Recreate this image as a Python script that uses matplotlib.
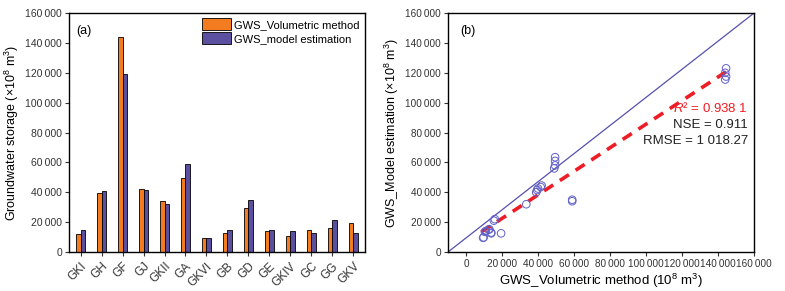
import matplotlib
matplotlib.use('Agg')
import matplotlib.pyplot as plt
from matplotlib.ticker import FuncFormatter
import numpy as np

plt.rcParams['font.family'] = ['Liberation Sans', 'DejaVu Sans']
plt.rcParams['mathtext.fontset'] = 'custom'
plt.rcParams['mathtext.rm'] = 'Liberation Sans'
plt.rcParams['mathtext.it'] = 'Liberation Sans:italic'

# panel (a) data
basins = ['GKI', 'GH', 'GF', 'GJ', 'GKII', 'GA', 'GKVI', 'GB', 'GD', 'GE',
          'GKIV', 'GC', 'GG', 'GKV']
vol_method = [12000, 39500, 144000, 42000, 34000, 49500, 9500, 13000, 29500,
              14000, 11000, 14500, 16000, 19500]
model_est = [15000, 41000, 119500, 41500, 32000, 59000, 9500, 15000, 34500,
             14800, 14000, 12500, 21500, 12500]

# panel (b) data
scat_x = [9500, 9800, 10500, 11000, 12500, 13000, 14000, 14000, 15500, 16000,
          19500, 33500, 39000, 39500, 40000, 41500, 42000, 49000, 49500,
          49500, 49500, 59000, 59000, 144000, 144500, 144000, 144500]
scat_y = [9500, 9800, 13500, 14000, 15000, 15200, 13000, 12500, 21000, 22000,
          12500, 32000, 40000, 41500, 42500, 43500, 44500, 56000, 58000,
          61000, 63500, 34000, 35000, 115500, 117500, 120000, 123000]

ORANGE = '#F47C20'
PURPLE = '#5B4F9F'


def thousands(v, pos):
    return '{:,}'.format(int(v)).replace(',', '\u2009')


fig = plt.figure(figsize=(7.85, 2.91), dpi=100)
ax1 = fig.add_axes([0.0879, 0.134, 0.377, 0.821])
ax2 = fig.add_axes([0.5707, 0.134, 0.3898, 0.821])

# ---- (a) bars
idx = np.arange(len(basins))
w = 0.22
ax1.bar(idx - w / 2, vol_method, w, color=ORANGE, edgecolor='black',
        linewidth=0.6, label='GWS_Volumetric method')
ax1.bar(idx + w / 2, model_est, w, color=PURPLE, edgecolor='black',
        linewidth=0.6, label='GWS_model estimation')
ax1.set_xlim(-0.55, len(basins) - 0.45)
ax1.set_ylim(0, 160000)
ax1.set_yticks(np.arange(0, 160001, 20000))
ax1.yaxis.set_major_formatter(FuncFormatter(thousands))
ax1.set_xticks(idx)
ax1.set_xticklabels(basins, rotation=45, ha='right', rotation_mode='anchor')
ax1.tick_params(labelsize=7.5, length=3, width=0.8, colors='#333333',
                pad=2)
ax1.tick_params(axis='x', labelsize=8.5, pad=3)
ax1.set_ylabel('Groundwater storage (\u00d710$^8$ m$^3$)', fontsize=9,
               labelpad=3)
ax1.text(0.025, 0.95, '(a)', transform=ax1.transAxes, fontsize=9,
         va='top')
ax1.legend(loc='upper right', frameon=False, fontsize=8, handlelength=2.6,
           handleheight=1.3, borderaxespad=0.05, labelspacing=0.15,
           handletextpad=0.3)

# ---- (b) scatter
ax2.plot([0, 1], [0, 1], transform=ax2.transAxes, color='#5550B0', lw=0.9)
k, b = np.polyfit(scat_x, scat_y, 1)
fx = np.array([min(scat_x) - 1000, max(scat_x)])
ax2.plot(fx, k * fx + b, color='#EE1C24', lw=2.6, ls=(0, (3, 2.2)))
ax2.scatter(scat_x, scat_y, s=30, facecolors='none', edgecolors='#6060C8',
            linewidths=0.7, zorder=3)
ax2.set_xlim(-10000, 160000)
ax2.set_ylim(0, 160000)
ax2.set_xticks(np.arange(0, 160001, 20000))
ax2.set_yticks(np.arange(0, 160001, 20000))
ax2.xaxis.set_major_formatter(FuncFormatter(thousands))
ax2.yaxis.set_major_formatter(FuncFormatter(thousands))
ax2.tick_params(labelsize=7.2, length=3, width=0.8, colors='#333333',
                pad=2)
ax2.set_xlabel('GWS_Volumetric method (10$^8$ m$^3$)', fontsize=9.5,
               labelpad=2)
ax2.set_ylabel('GWS_Model estimation (\u00d710$^8$ m$^3$)', fontsize=9,
               labelpad=3)
ax2.text(0.04, 0.95, '(b)', transform=ax2.transAxes, fontsize=9, va='top')
ax2.text(0.98, 0.603, '$R$\u00b2 = 0.938 1', transform=ax2.transAxes,
         color='#EE1C24', fontsize=9.5, ha='right', va='center')
ax2.text(0.98, 0.531, 'NSE = 0.911', transform=ax2.transAxes,
         color='#222222', fontsize=9.5, ha='right', va='center')
ax2.text(0.98, 0.464, 'RMSE = 1 018.27', transform=ax2.transAxes,
         color='#222222', fontsize=9.5, ha='right', va='center')

for ax in (ax1, ax2):
    for sp in ax.spines.values():
        sp.set_linewidth(1.0)

plt.savefig('out.png', dpi=100)
